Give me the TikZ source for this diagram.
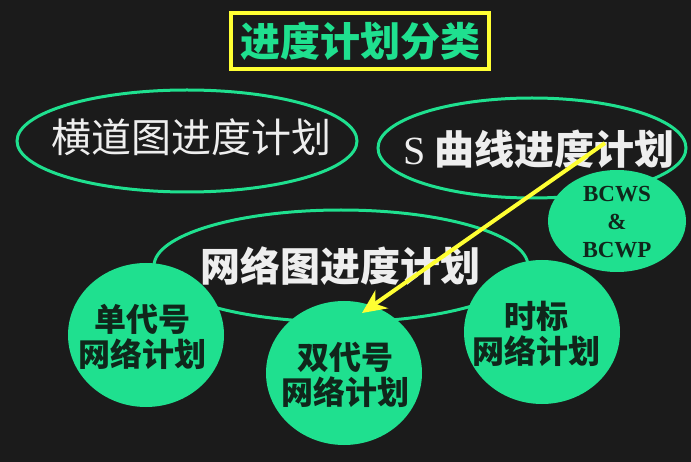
\documentclass[tikz,border=0pt]{standalone}
\usepackage{fontspec}
\newfontfamily\cjk{Noto Sans CJK SC}
\newfontfamily\latinserif{Liberation Serif}
\usetikzlibrary{positioning, shapes.geometric, arrows.meta}
\definecolor{bgdark}{HTML}{1B1B1B}
\definecolor{mint}{HTML}{1FE08F}
\definecolor{signyellow}{HTML}{FFFF33}
\definecolor{inkdark}{HTML}{10261B}
\definecolor{chalk}{HTML}{EEEEEE}

\begin{document}
\begin{tikzpicture}[
  x=1pt, y=-1pt,
  ring/.style={ellipse, draw=mint, line width=3pt, inner sep=0pt},
  disc/.style={ellipse, fill=mint, inner sep=0pt, minimum width=156pt, minimum height=144pt},
  plantext/.style={font=\cjk\fontsize{40}{44}\selectfont, text=chalk, inner sep=0pt},
  disctext/.style={font=\cjk\bfseries\fontsize{32}{35}\selectfont, text=inkdark, align=center, inner sep=0pt},
  arrow/.style={-{Stealth[length=24pt, width=22pt]}, line width=4pt, signyellow}
]
% Background
\fill[bgdark] (0,0) rectangle (691,462);

% Title
\node[draw=signyellow, line width=4pt, minimum width=258pt, minimum height=56pt, inner sep=0pt,
      font=\cjk\bfseries\fontsize{40}{44}\selectfont, text=mint] (title) at (360,41) {进度计划分类};

% Plan families (outlined ellipses)
\node[ring, minimum width=340pt, minimum height=102pt] (gantt) at (187,141) {};
\node[ring, minimum width=308pt, minimum height=100pt] (scurve) at (532,148) {};
\node[ring, minimum width=374pt, minimum height=112pt] (network) at (341,266) {};

% Sub types (filled discs)
\node[disc] (single) at (146,335) {};
\node[disc] (double) at (344,373) {};
\node[disc] (timescaled) at (542,332) {};
\node[disc, minimum width=138pt, minimum height=102pt] (earned) at (617,221) {};

% Labels
\node[plantext] (gantt-txt) at (191,137) {横道图进度计划};
\node[plantext] (scurve-txt) at (539,149) {{\latinserif S}\ \bfseries 曲线进度计划};
\node[plantext, font=\cjk\bfseries\fontsize{40}{44}\selectfont] (network-txt) at (340,266) {网络图进度计划};

\node[disctext] (single-txt) at (142,337) {单代号\\网络计划};
\node[disctext] (double-txt) at (345,375) {双代号\\网络计划};
\node[disctext] (timescaled-txt) at (536,334) {时标\\网络计划};
\node[disctext, font=\latinserif\bfseries\fontsize{23}{28}\selectfont] (earned-txt) at (617,222) {BCWS\\\&\\BCWP};

% Arrow from the S curve plan to the double code plan
\coordinate (tail) at (605,143);
\coordinate (tip) at (362,313);
\draw[arrow] (tail) -- (tip);

\end{tikzpicture}
\end{document}
